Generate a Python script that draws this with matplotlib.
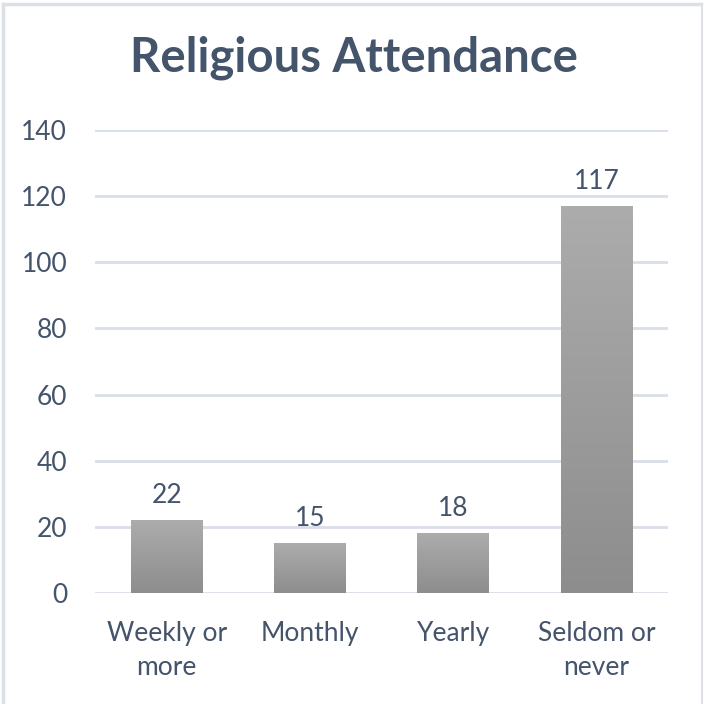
import matplotlib
matplotlib.use("Agg")
import matplotlib.pyplot as plt
import numpy as np
from matplotlib.lines import Line2D
from matplotlib.colors import LinearSegmentedColormap

categories = ["Weekly or\nmore", "Monthly", "Yearly", "Seldom or\nnever"]
values = [22, 15, 18, 117]
yticks = [0, 20, 40, 60, 80, 100, 120, 140]
title = "Religious Attendance"

TXT = "#44546A"
GRID = "#D9DFE8"

plt.rcParams['font.family'] = ['Lato', 'DejaVu Sans']

fig = plt.figure(figsize=(7.04, 7.04), dpi=100)
ax = fig.add_axes([0.135, 0.158, 0.814, 0.657])

x = np.arange(len(categories))
bars = ax.bar(x, values, width=0.5, color="#9C9C9C", edgecolor="none", zorder=3)

grad = np.linspace(0, 1, 256).reshape(-1, 1)
cmap = LinearSegmentedColormap.from_list("g", ["#8D8D8D", "#ACACAC"])
for b in bars:
    x0, y0 = b.get_x(), b.get_y()
    w, h = b.get_width(), b.get_height()
    im = ax.imshow(grad, cmap=cmap, aspect="auto", origin="lower",
                   extent=(x0, x0 + w, y0, y0 + h), zorder=4)
    im.set_clip_path(b)

for xi, v in zip(x, values):
    ax.annotate(str(v), (xi, v), xytext=(0, 9), textcoords="offset points",
                ha="center", va="bottom", fontsize=19, color=TXT)

ax.set_xlim(-0.5, len(categories) - 0.5)
ax.set_ylim(0, 140)
ax.set_yticks(yticks)
ax.set_yticklabels([str(t) for t in yticks])
ax.set_xticks(x)
ax.set_xticklabels(categories, linespacing=1.45)
ax.tick_params(axis="both", length=0, labelsize=19, labelcolor=TXT)
ax.tick_params(axis="y", pad=20)
ax.tick_params(axis="x", pad=20)
ax.yaxis.grid(True, color=GRID, linewidth=2, zorder=0)
ax.set_axisbelow(True)
for s in ax.spines.values():
    s.set_visible(False)

fig.text(0.503, 0.918, title, ha="center", va="center", fontsize=34,
         fontweight="bold", color=TXT)

# light frame around the chart area
frame_c = "#DCE1E8"
fig.add_artist(Line2D([0.004, 0.004], [0, 0.995], transform=fig.transFigure, color=frame_c, lw=2.5))
fig.add_artist(Line2D([0.004, 0.996], [0.995, 0.995], transform=fig.transFigure, color=frame_c, lw=2.5))
fig.add_artist(Line2D([0.997, 0.997], [0, 0.995], transform=fig.transFigure, color=frame_c, lw=1.5))

fig.savefig("out.png", dpi=100, facecolor="white")
